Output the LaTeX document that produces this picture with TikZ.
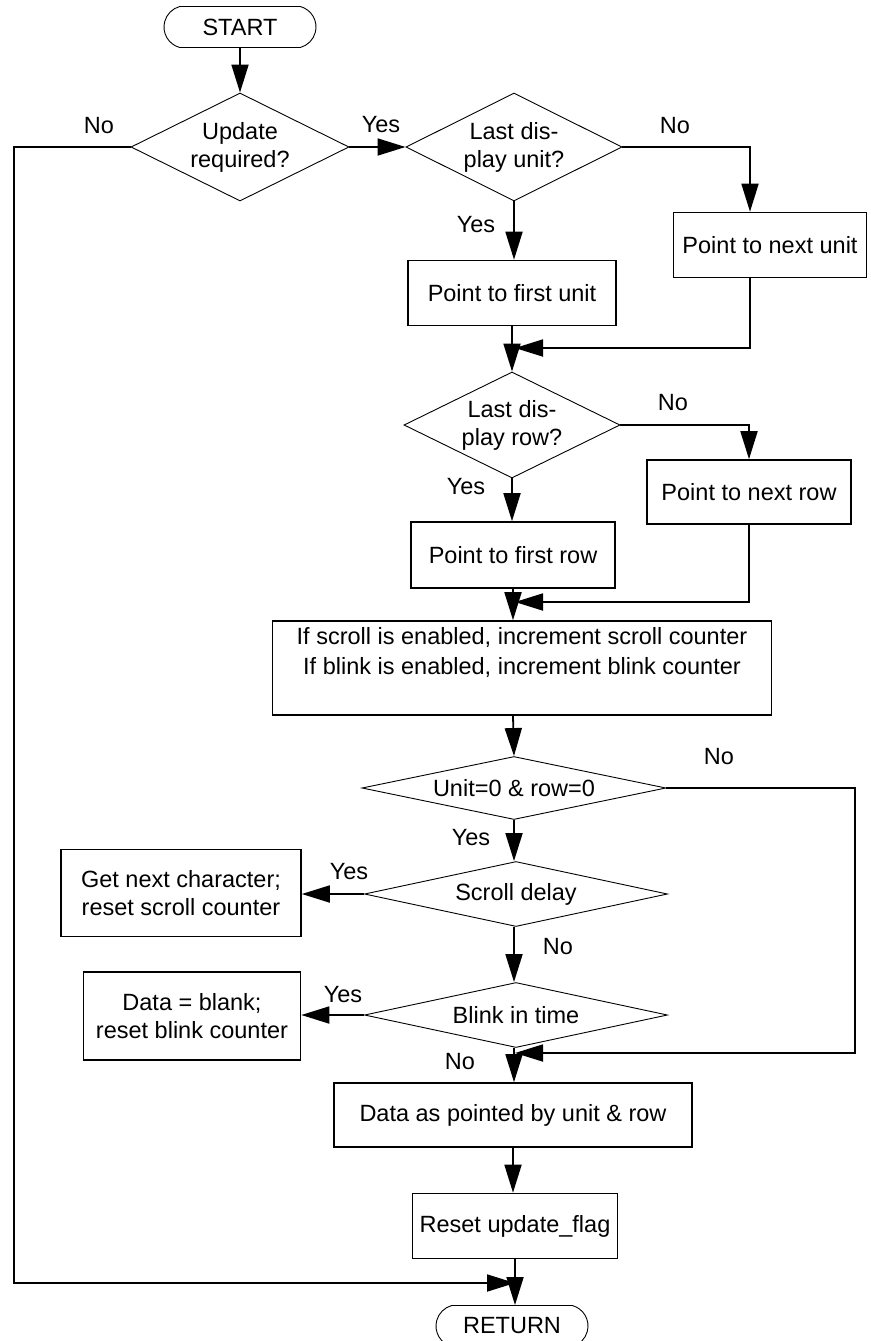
\documentclass[tikz,border=0pt]{standalone}
\usepackage{fontspec}
\setmainfont{Liberation Sans}
\usetikzlibrary{shapes.geometric,shapes.misc,arrows.meta}

\tikzset{
  box/.style={draw, line width=1.6pt, rectangle, inner sep=0pt, align=center},
  decide/.style={draw, line width=0.9pt, diamond, inner sep=0pt, align=center},
  term/.style={draw, line width=0.9pt, rounded rectangle, rounded rectangle arc length=150,
    minimum width=152pt, minimum height=41pt, inner sep=0pt},
  flow/.style={line width=1.8pt, -{Triangle[length=28pt,width=17pt]}},
  lbl/.style={inner sep=0pt}
}

\begin{document}
\begin{tikzpicture}[x=1pt, y=-1pt, font=\fontsize{23.5}{28}\selectfont]
\useasboundingbox (0,0) rectangle (870,1341);

% nodes
\node [term] (start) at (240,27) {START};
\node [decide, aspect=2.02, minimum width=218pt, minimum height=108pt] (updreq) at (240,147) {Update\\required?};
\node [decide, aspect=2, minimum width=216pt, minimum height=108pt] (lastunit) at (514,147) {Last dis-\\play unit?};
\node [box, minimum width=193pt, minimum height=65pt] (nextunit) at (770,245) {Point to next unit};
\node [box, minimum width=208pt, minimum height=65pt] (firstunit) at (512,293) {Point to first unit};
\node [decide, aspect=2.04, minimum width=216pt, minimum height=106pt] (lastrow) at (512,425) {Last dis-\\play row?};
\node [box, minimum width=204pt, minimum height=64pt] (nextrow) at (749,492) {Point to next row};
\node [box, minimum width=204pt, minimum height=66pt] (firstrow) at (513,555) {Point to first row};
\node [box, minimum width=499pt, minimum height=94pt, font=\fontsize{23.5}{30}\selectfont] (counters) at (522,668)
  {If scroll is enabled, increment scroll counter\\If blink is enabled, increment blink counter\\[4pt]};
\node [decide, aspect=4.83, minimum width=304pt, minimum height=63pt] (zero) at (514,788) {Unit=0 \& row=0};
\node [decide, aspect=4.66, minimum width=303pt, minimum height=65pt] (scroll) at (516,894) {Scroll delay};
\node [box, minimum width=240pt, minimum height=87pt] (getchar) at (181,893) {Get next character;\\reset scroll counter};
\node [decide, aspect=4.66, minimum width=303pt, minimum height=65pt] (blink) at (516,1015) {Blink in time};
\node [box, minimum width=217pt, minimum height=88pt] (blank) at (192,1016) {Data = blank;\\reset blink counter};
\node [box, minimum width=358pt, minimum height=64pt] (data) at (513,1115) {Data as pointed by unit \& row};
\node [box, minimum width=205pt, minimum height=65pt] (reset) at (515,1226) {Reset update\_flag};
\node [term] (ret) at (512,1326) {RETURN};

% branch labels
\node [lbl] (no1) at (99,126) {No};
\node [lbl] (yes1) at (381,125) {Yes};
\node [lbl] (no2) at (675,126) {No};
\node [lbl] (yes2) at (476,225) {Yes};
\node [lbl] (no3) at (673,403) {No};
\node [lbl] (yes3) at (466,487) {Yes};
\node [lbl] (no4) at (719,757) {No};
\node [lbl] (yes4) at (471,838) {Yes};
\node [lbl] (yes5) at (349,872) {Yes};
\node [lbl] (no5) at (558,947) {No};
\node [lbl] (yes6) at (343,995) {Yes};
\node [lbl] (no6) at (460,1062) {No};

% junctions
\coordinate (m1) at (515,348);
\coordinate (m2) at (515,602);
\coordinate (m3) at (515,1053);
\coordinate (zr) at (855,1053);
\coordinate (lft) at (14,1283);

% connectors
\draw [flow] (start.south) -- (updreq.north);
\draw [flow] (updreq.east) -- (lastunit.west);
\draw [flow] (lastunit.east) -| ([xshift=-20pt]nextunit.north);
\draw [flow] (lastunit.south) -- (lastunit.south |- firstunit.north);
\draw [flow] ([xshift=-20pt]nextunit.south) |- (m1);
\draw [flow] (firstunit.south) -- (lastrow.north);
\draw [flow] (lastrow.east) -| (nextrow.north);
\draw [flow] (lastrow.south) -- (lastrow.south |- firstrow.north);
\draw [flow] (nextrow.south) |- (m2);
\draw [flow] (firstrow.south) -- (firstrow.south |- counters.north);
\draw [flow] (firstrow.south |- counters.south) -- (zero.north);
\draw [flow] (zero.south) -- (zero.south |- scroll.north);
\draw [flow] (scroll.west) -- (getchar.east |- scroll.west);
\draw [flow] (zero.south |- scroll.south) -- (zero.south |- blink.north);
\draw [flow] (blink.west) -- (blank.east |- blink.west);
\draw [flow] (zero.east) -| (zr) -- (m3);
\draw [flow] (zero.south |- blink.south) -- (zero.south |- data.north);
\draw [flow] (data.south) -- (data.south |- reset.north);
\draw [flow] (reset.south) -- (reset.south |- ret.north);
\draw [flow] (updreq.west) -| (lft) -- (lft -| reset.south);

\end{tikzpicture}
\end{document}
